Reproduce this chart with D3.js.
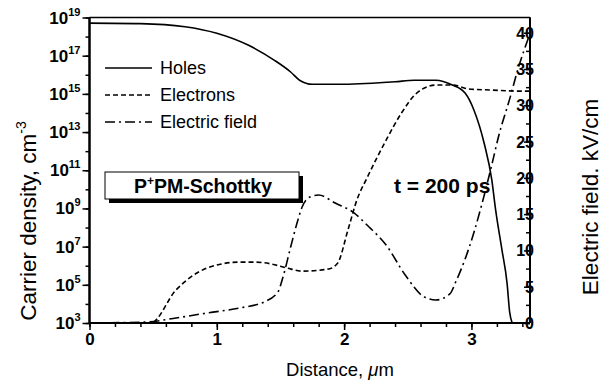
<!DOCTYPE html>
<html><head><meta charset="utf-8">
<script src="https://cdn.jsdelivr.net/npm/d3@7"></script>
<style>
body{margin:0;background:#fff;}
svg{display:block;font-family:"Liberation Sans",Arial,sans-serif;}
</style></head>
<body><svg id="c" width="611" height="385"></svg>
<script>
// ---- data ----
const holesX = [0, 0.4, 0.75, 1.0, 1.25, 1.45, 1.58, 1.65, 1.75, 2.0, 2.4, 2.55, 2.72, 2.85, 2.95, 3.02, 3.10, 3.16, 3.19, 3.24, 3.28, 3.30, 3.32];
const holesN = [5.1e18, 4.8e18, 3.3e18, 1.5e18, 3.5e17, 5.9e16, 1.4e16, 5.2e15, 3.2e15, 3.2e15, 4.3e15, 5.2e15, 5.2e15, 2.9e15, 1.1e15, 1.4e14, 2.6e12, 3.1e10, 8.3e8, 6.6e6, 1.2e5, 3.8e3, 1e3];
const elecX = [0, 0.48, 0.68, 0.925, 1.18, 1.30, 1.43, 1.55, 1.67, 1.88, 1.95, 2.03, 2.10, 2.18, 2.33, 2.45, 2.57, 2.72, 2.85, 2.98, 3.15, 3.37, 3.46];
const elecN = [1e3, 1e3, 5.4e4, 7.6e5, 1.55e6, 1.55e6, 1.23e6, 7.6e5, 5.2e5, 6.8e5, 1.4e6, 7.4e7, 2.75e9, 4e10, 3.8e12, 9.8e13, 1.1e15, 2.9e15, 2.9e15, 1.8e15, 1.6e15, 1.4e15, 1.4e15];
const fieldX = [0, 0.45, 0.68, 0.925, 1.18, 1.37, 1.48, 1.52, 1.58, 1.63, 1.67, 1.73, 1.80, 1.93, 2.08, 2.18, 2.33, 2.48, 2.63, 2.72, 2.83, 2.88, 2.95, 3.02, 3.07, 3.15, 3.22, 3.30, 3.37, 3.45];
const fieldE = [0, 0.14, 0.69, 1.38, 2.07, 2.89, 4.27, 6.34, 10.47, 13.77, 15.98, 17.36, 17.63, 16.53, 15.15, 13.5, 10.74, 6.61, 3.58, 3.17, 4.0, 5.8, 8.8, 12.5, 15.6, 21.07, 26.17, 30.85, 35.26, 39.4];
const xTicks = [0, 1, 2, 3];
const yExps = [3, 5, 7, 9, 11, 13, 15, 17, 19];
const rTicks = [0, 5, 10, 15, 20, 25, 30, 35, 40];
const legendLabels = ["Holes", "Electrons", "Electric field"];

// ---- layout ----
const L = 89.5, T = 17.5, R = 530, B = 323;
const svg = d3.select("#c");
const x = d3.scaleLinear().domain([0, 3.46]).range([L, R]);
const y = d3.scaleLog().domain([1e3, 1e19]).range([B, T]);
const yr = d3.scaleLinear().domain([0, 42.1]).range([B, T]);

const ink = "#000";
svg.append("line").attr("x1", L).attr("x2", R).attr("y1", T).attr("y2", T).attr("stroke", ink).attr("stroke-width", 1.3);

// bottom axis
const gx = svg.append("g").attr("transform", `translate(0,${B})`);
gx.call(d3.axisBottom(x).tickValues(d3.range(0, 3.41, 0.2)).tickSize(4).tickFormat(""));
gx.call(g => g.append("g").call(d3.axisBottom(x).tickValues(xTicks).tickSize(7).tickFormat(d3.format("d"))));
gx.selectAll("path.domain").attr("stroke-width", 2).attr("d", `M${L},0H${R}`);
gx.selectAll("line").attr("stroke-width", 1.5);
gx.selectAll("text").attr("font-size", 17).attr("font-weight", "bold").attr("font-family", "Liberation Sans, Arial, sans-serif").attr("fill", ink).attr("dy", "0.95em").attr("y", 6);

// left axis
const gy = svg.append("g").attr("transform", `translate(${L},0)`);
gy.call(d3.axisLeft(y).tickValues(d3.range(3, 20).map(e => Math.pow(10, e))).tickSize(4).tickFormat(""));
gy.call(g => g.append("g").call(d3.axisLeft(y).tickValues(yExps.map(e => Math.pow(10, e))).tickSize(7).tickFormat("")));
gy.selectAll("path.domain").attr("stroke-width", 2).attr("d", `M0,${T}V${B}`);
gy.selectAll("line").attr("stroke-width", 1.5);
const yl = gy.append("g");
yExps.forEach(e => {
  const t = yl.append("text").attr("x", -9).attr("y", y(Math.pow(10, e)) + 6)
    .attr("text-anchor", "end").attr("font-weight", "bold").attr("fill", ink);
  t.append("tspan").attr("font-size", 17).text("10");
  t.append("tspan").attr("font-size", 11).attr("dy", -8).text(e);
});

// right axis
const gr = svg.append("g").attr("transform", `translate(${R},0)`);
gr.call(d3.axisLeft(yr).tickValues(d3.range(0, 41, 2.5)).tickSize(4).tickFormat(""));
gr.call(g => g.append("g").call(d3.axisLeft(yr).tickValues(rTicks).tickSize(6).tickFormat("")));
gr.selectAll("path.domain").attr("stroke-width", 2).attr("d", `M0,${T}V${B}`);
gr.selectAll("line").attr("stroke-width", 1.5);
rTicks.forEach(v => {
  gr.append("text").attr("x", 4).attr("y", yr(v) + 6).attr("font-size", 16).attr("font-weight", "bold").attr("fill", ink).text(v);
});

// curves
const lineN = d3.line().x(d => x(d[0])).y(d => y(d[1])).curve(d3.curveMonotoneX);
const lineE = d3.line().x(d => x(d[0])).y(d => yr(d[1])).curve(d3.curveMonotoneX);
const styles = [null, "5,3", "10,4,2,4"];
svg.append("path").attr("d", lineN(d3.zip(holesX, holesN))).attr("fill", "none").attr("stroke", ink).attr("stroke-width", 1.6);
svg.append("path").attr("d", lineN(d3.zip(elecX, elecN))).attr("fill", "none").attr("stroke", ink).attr("stroke-width", 1.6).attr("stroke-dasharray", styles[1]);
svg.append("path").attr("d", lineE(d3.zip(fieldX, fieldE))).attr("fill", "none").attr("stroke", ink).attr("stroke-width", 1.6).attr("stroke-dasharray", styles[2]);

// legend
legendLabels.forEach((lab, i) => {
  const cy = 68 + i * 27;
  svg.append("line").attr("x1", 105).attr("x2", 152).attr("y1", cy).attr("y2", cy)
    .attr("stroke", ink).attr("stroke-width", 1.6).attr("stroke-dasharray", styles[i]);
  svg.append("text").attr("x", 160).attr("y", cy + 6).attr("font-size", 18).attr("fill", ink).text(lab);
});

// annotation box
svg.append("rect").attr("x", 109).attr("y", 176).attr("width", 194).attr("height", 27).attr("fill", ink);
svg.append("rect").attr("x", 105).attr("y", 172).attr("width", 194).attr("height", 27).attr("fill", "#fff").attr("stroke", ink).attr("stroke-width", 1);
const bt = svg.append("text").attr("x", 203).attr("y", 193).attr("text-anchor", "middle").attr("font-size", 19.5).attr("font-weight", "bold").attr("fill", ink);
bt.append("tspan").text("P");
bt.append("tspan").attr("font-size", 12).attr("dy", -8).text("+");
bt.append("tspan").attr("dy", 8).text("PM-Schottky");

svg.append("text").attr("x", 394).attr("y", 193).attr("font-size", 21).attr("font-weight", "bold").attr("fill", ink).text("t = 200 ps");

// axis titles
const xt = svg.append("text").attr("x", 340).attr("y", 376).attr("text-anchor", "middle").attr("font-size", 18.5).attr("fill", ink);
xt.append("tspan").text("Distance, ");
xt.append("tspan").attr("font-style", "italic").text("\u03bc");
xt.append("tspan").text("m");

const ylt = svg.append("text").attr("transform", "translate(36,221) rotate(-90)").attr("text-anchor", "middle").attr("font-size", 22.5).attr("fill", ink);
ylt.append("tspan").text("Carrier density, cm");
ylt.append("tspan").attr("font-size", 14).attr("dy", -10).text("-3");

svg.append("text").attr("transform", "translate(598,197) rotate(-90)").attr("text-anchor", "middle").attr("font-size", 22.5).attr("fill", ink).text("Electric field. kV/cm");
</script></body></html>
